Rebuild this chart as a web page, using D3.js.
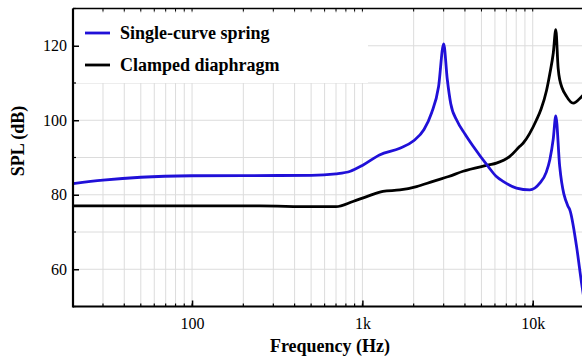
<!DOCTYPE html>
<html>
<head>
<meta charset="utf-8">
<script src="https://cdn.jsdelivr.net/npm/d3@7"></script>
<style>
  body { margin: 0; background: #fff; }
  svg { display: block; }
</style>
</head>
<body>
<div id="graph"></div>
<script>
// single-curve spring (blue)
const springFreq = [20, 30, 50, 100, 200, 500, 700, 850, 1010, 1260, 1660, 2000, 2300, 2550, 2800, 3000,
  3150, 3300, 3600, 4000, 4470, 5470, 6120, 6700, 8030, 9620, 11000, 12000, 12600, 13200, 13660,
  14400, 16100, 16500, 18100, 19350, 20000];
const springSpl = [83, 83.9, 84.7, 85.1, 85.15, 85.2, 85.6, 86.3, 88, 90.7, 92.5, 94.5, 97.5, 102, 109, 120.5,
  111, 104.5, 99.8, 96.3, 93, 87.6, 84.9, 83.6, 81.8, 81.3, 83.1, 86, 89.4, 95, 101.2,
  87.6, 76.9, 76, 66, 56.3, 52];

// clamped diaphragm (black)
const clampedFreq = [20, 100, 250, 500, 700, 880, 1060, 1320, 1660, 2080, 2600, 3210, 3900, 5520, 6120,
  7340, 8400, 8800, 10500, 11200, 12050, 12600, 13200, 13660, 14100, 14400, 15800, 17300, 19400, 20000];
const clampedSpl = [77, 77, 77, 76.8, 76.8, 78.2, 79.5, 80.9, 81.3, 82.2, 83.6, 84.9, 86.3, 88, 88.5,
  90.3, 93, 93.9, 100, 103, 108, 112.5, 118, 124.3, 114, 110.9, 106.4, 104.6, 106.4, 107];

const seriesNames = ["Single-curve spring", "Clamped diaphragm"];
const seriesColors = ["#2010d8", "#000000"];

const yTicks = [60, 80, 100, 120];
const yMinorTicks = [50, 70, 90, 110, 130];
const xTicks = [100, 1000, 10000];
const xTickLabels = ["100", "1k", "10k"];

const w = 582, h = 359;
const mLeft = 73, mRight = 584, mTop = 8.5, mBottom = 306.5;

const svg = d3.select("#graph").append("svg")
  .attr("width", w)
  .attr("height", h);

const x = d3.scaleLog().domain([20, 20000]).range([mLeft, mRight]);
const y = d3.scaleLinear().domain([50, 130]).range([mBottom, mTop]);

// minor freq ticks: 20..90, 200..900 ...
const xMinor = [];
[10, 100, 1000, 10000].forEach(dec => {
  for (let k = 1; k <= 9; k++) {
    const f = dec * k;
    if (f >= 20 && f <= 20000) xMinor.push(f);
  }
});

// grid
svg.append("g").selectAll("line")
  .data(xMinor)
  .enter().append("line")
  .attr("x1", d => x(d)).attr("x2", d => x(d))
  .attr("y1", mTop).attr("y2", mBottom)
  .attr("stroke", "#dcdcdc").attr("stroke-width", 1);

svg.append("g").selectAll("line")
  .data(d3.range(50, 131, 10))
  .enter().append("line")
  .attr("x1", mLeft).attr("x2", w)
  .attr("y1", d => y(d)).attr("y2", d => y(d))
  .attr("stroke", "#dcdcdc").attr("stroke-width", 1);

// legend background
svg.append("rect")
  .attr("x", 75).attr("y", 13)
  .attr("width", 293).attr("height", 70)
  .attr("fill", "#fff");

// curves
svg.append("clipPath").attr("id", "plotclip")
  .append("rect").attr("x", mLeft).attr("y", mTop).attr("width", mRight - mLeft).attr("height", mBottom - mTop);

const line = d3.line()
  .x(d => x(d[0]))
  .y(d => y(d[1]))
  .curve(d3.curveMonotoneX);

const series = [d3.zip(springFreq, springSpl), d3.zip(clampedFreq, clampedSpl)];

svg.append("g").attr("clip-path", "url(#plotclip)")
  .selectAll("path")
  .data([1, 0])
  .enter().append("path")
  .attr("d", i => line(series[i]))
  .attr("fill", "none")
  .attr("stroke", i => seriesColors[i])
  .attr("stroke-width", 2.8)
  .attr("stroke-linejoin", "round");

// axes
const font = "'Liberation Serif', 'Times New Roman', serif";

const xAxis = svg.append("g")
  .attr("transform", "translate(0," + mBottom + ")")
  .call(d3.axisBottom(x).tickValues(xTicks).tickFormat((d, i) => xTickLabels[i]).tickSizeInner(-6).tickSizeOuter(0).tickPadding(11));
xAxis.select(".domain").attr("stroke-width", 2).attr("d", "M" + mLeft + ",0H" + w);
xAxis.selectAll(".tick line").attr("stroke-width", 1.5);
xAxis.selectAll("text").style("font-family", font).style("font-size", "16px").attr("fill", "#000");

svg.append("g").selectAll("line")
  .data(xMinor)
  .enter().append("line")
  .attr("x1", d => x(d)).attr("x2", d => x(d))
  .attr("y1", mBottom).attr("y2", mBottom - 3)
  .attr("stroke", "#000").attr("stroke-width", 1.2);

// top border + ticks
svg.append("line")
  .attr("x1", mLeft).attr("x2", w).attr("y1", mTop).attr("y2", mTop)
  .attr("stroke", "#000").attr("stroke-width", 1.6);
svg.append("g").selectAll("line")
  .data(xMinor)
  .enter().append("line")
  .attr("x1", d => x(d)).attr("x2", d => x(d))
  .attr("y1", mTop).attr("y2", mTop + 3)
  .attr("stroke", "#000").attr("stroke-width", 1);

const yAxis = svg.append("g")
  .attr("transform", "translate(" + mLeft + ",0)")
  .call(d3.axisLeft(y).tickValues(yTicks).tickSizeInner(-6).tickSizeOuter(0).tickPadding(6));
yAxis.select(".domain").attr("stroke-width", 2.2).attr("d", "M0," + mTop + "V" + (mBottom + 1));
yAxis.selectAll(".tick line").attr("stroke-width", 1.5);
yAxis.selectAll("text").style("font-family", font).style("font-size", "16px").attr("fill", "#000");

svg.append("g").selectAll("line")
  .data(yMinorTicks)
  .enter().append("line")
  .attr("x1", mLeft).attr("x2", mLeft + 3)
  .attr("y1", d => y(d)).attr("y2", d => y(d))
  .attr("stroke", "#000").attr("stroke-width", 1.2);

// axis titles
svg.append("text")
  .attr("x", 330).attr("y", 352)
  .attr("text-anchor", "middle")
  .style("font-family", font).style("font-size", "18px").style("font-weight", "bold")
  .text("Frequency (Hz)");

svg.append("text")
  .attr("transform", "translate(24,141) rotate(-90)")
  .attr("text-anchor", "middle")
  .style("font-family", font).style("font-size", "18px").style("font-weight", "bold")
  .text("SPL (dB)");

// legend
const legend = svg.append("g");
seriesNames.forEach((name, i) => {
  const ly = 33 + i * 32;
  legend.append("line")
    .attr("x1", 85).attr("x2", 110).attr("y1", ly).attr("y2", ly)
    .attr("stroke", seriesColors[i]).attr("stroke-width", 2.8);
  legend.append("text")
    .attr("x", 120).attr("y", ly + 6)
    .style("font-family", font).style("font-size", "18px").style("font-weight", "bold")
    .text(name);
});
</script>
</body>
</html>
